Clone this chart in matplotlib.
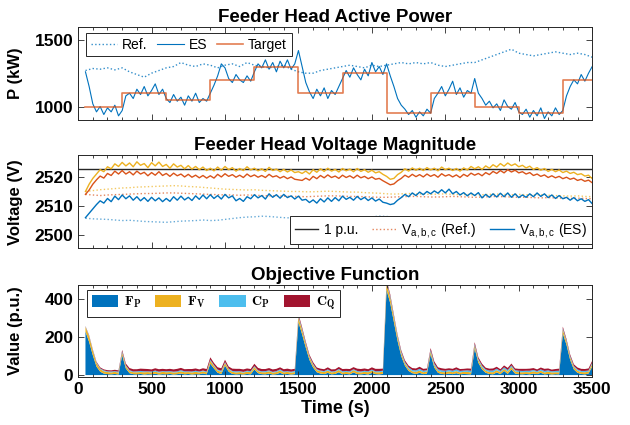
# Feeder head power / voltage / objective - 3 stacked panels
import matplotlib
matplotlib.use("Agg")
import matplotlib.pyplot as plt
import numpy as np

plt.rcParams['font.family'] = ['Liberation Sans', 'DejaVu Sans']
plt.rcParams['mathtext.fontset'] = 'cm'

# time grids (s)
t = np.arange(50, 3501, 25)
t_ref = np.arange(50, 3501, 50)

# ---- active power (kW) ----
p_es = [1260, 1150, 1020, 960, 1000, 940, 990, 960, 1010, 930, 970, 1080,
        1100, 1060, 1130, 1090, 1150, 1080, 1120, 1170, 1090, 1130, 1060, 1030,
        1090, 1040, 1070, 1010, 1080, 1040, 1100, 1030, 1060, 1040, 1100, 1160,
        1230, 1320, 1290, 1210, 1180, 1240, 1200, 1180, 1230, 1190, 1260, 1320,
        1290, 1350, 1280, 1330, 1260, 1340, 1290, 1350, 1280, 1320, 1420, 1300,
        1180, 1110, 1060, 1130, 1080, 1140, 1060, 1120, 1090, 1150, 1210, 1270,
        1220, 1290, 1240, 1200, 1280, 1230, 1330, 1260, 1300, 1240, 1320, 1230,
        1150, 1060, 1010, 980, 940, 970, 920, 960, 930, 980, 950, 1060,
        1100, 1150, 1080, 1130, 1190, 1090, 1140, 1070, 1120, 1100, 1210, 1100,
        1060, 1010, 1040, 990, 1020, 970, 1050, 1000, 980, 1030, 960, 940,
        980, 920, 970, 930, 990, 910, 960, 930, 990, 940, 970, 1080,
        1150, 1200, 1170, 1240, 1190, 1250, 1300]
p_ref = [1270, 1285, 1280, 1290, 1275, 1290, 1260, 1240, 1220, 1250,
         1270, 1290, 1300, 1330, 1310, 1300, 1320, 1310, 1290, 1310,
         1320, 1300, 1330, 1310, 1300, 1290, 1300, 1310, 1280, 1260,
         1250, 1250, 1270, 1280, 1290, 1300, 1310, 1300, 1290, 1310,
         1300, 1310, 1320, 1330, 1320, 1330, 1320, 1330, 1310, 1300,
         1310, 1320, 1330, 1330, 1350, 1370, 1390, 1410, 1430, 1400,
         1390, 1380, 1390, 1400, 1410, 1400, 1390, 1400, 1390, 1370]
target_t = [50, 300, 600, 900, 1200, 1500, 1800, 2100, 2400, 2700, 3000, 3300, 3500]
target_p = [1000, 1100, 1050, 1200, 1300, 1100, 1250, 950, 1100, 1000, 950, 1200, 1200]

# ---- voltage (V) ----
v_nominal = 2522.6
v_es_c = [2515.0, 2517.5, 2519.5, 2521.0, 2522.5, 2521.8, 2523.5, 2522.8, 2524.5, 2523.6, 2525.0, 2523.8,
          2524.8, 2523.5, 2525.2, 2524.0, 2524.6, 2523.2, 2524.9, 2523.8, 2525.1, 2523.6, 2524.3, 2523.0,
          2524.5, 2523.4, 2524.0, 2522.8, 2523.9, 2522.7, 2523.6, 2522.5, 2523.4, 2522.2, 2523.0, 2522.1,
          2523.4, 2522.3, 2523.6, 2522.5, 2523.2, 2522.0, 2522.9, 2522.2, 2523.5, 2522.4, 2523.0, 2522.1,
          2522.8, 2521.9, 2523.3, 2522.2, 2522.7, 2521.8, 2522.6, 2521.7, 2522.4, 2521.5, 2521.8, 2521.2,
          2522.0, 2521.0, 2522.5, 2521.6, 2522.8, 2521.9, 2523.0, 2522.0, 2522.6, 2521.7, 2522.9, 2522.1,
          2522.7, 2521.8, 2522.9, 2521.9, 2522.5, 2521.6, 2522.3, 2521.4, 2521.8, 2520.9, 2520.2, 2519.2,
          2519.5, 2520.8, 2521.6, 2522.8, 2522.0, 2523.1, 2522.3, 2523.0, 2522.2, 2523.2, 2522.4, 2523.0,
          2522.1, 2523.4, 2522.5, 2523.0, 2522.2, 2522.9, 2522.0, 2523.1, 2522.4, 2523.6, 2522.8, 2523.5,
          2522.6, 2523.8, 2523.0, 2524.2, 2523.4, 2524.6, 2523.7, 2524.8, 2523.9, 2524.5, 2523.5, 2524.0,
          2523.1, 2523.7, 2522.6, 2523.2, 2522.3, 2522.9, 2521.9, 2522.6, 2521.8, 2522.4, 2521.5, 2522.0,
          2521.2, 2521.6, 2520.8, 2521.1, 2520.3, 2520.6, 2519.4]
v_es_b = [2514.0, 2515.5, 2517.5, 2519.0, 2520.3, 2519.6, 2521.2, 2520.5, 2522.0, 2521.0, 2522.2, 2521.0,
          2521.8, 2520.7, 2522.0, 2521.0, 2521.6, 2520.4, 2521.5, 2520.6, 2521.8, 2520.5, 2521.2, 2520.2,
          2521.3, 2520.4, 2521.0, 2520.0, 2520.9, 2519.9, 2520.6, 2519.7, 2520.5, 2519.6, 2520.4, 2519.6,
          2520.9, 2520.0, 2521.1, 2520.2, 2520.8, 2519.9, 2520.6, 2519.8, 2521.0, 2520.1, 2520.7, 2519.9,
          2520.5, 2519.8, 2520.9, 2520.0, 2520.4, 2519.6, 2520.2, 2519.4, 2520.0, 2519.2, 2519.0, 2518.8,
          2519.6, 2518.9, 2520.2, 2519.4, 2520.5, 2519.7, 2520.7, 2519.8, 2520.3, 2519.5, 2520.6, 2519.8,
          2520.4, 2519.6, 2520.6, 2519.7, 2520.2, 2519.4, 2520.0, 2519.2, 2519.5, 2518.7, 2518.0, 2517.3,
          2517.6, 2518.7, 2519.5, 2520.6, 2519.9, 2520.9, 2520.1, 2520.8, 2520.0, 2521.0, 2520.2, 2520.8,
          2519.9, 2521.1, 2520.3, 2520.8, 2520.0, 2520.7, 2519.8, 2520.9, 2520.2, 2521.3, 2520.6, 2521.2,
          2520.4, 2521.5, 2520.8, 2521.9, 2521.2, 2522.2, 2521.4, 2522.5, 2521.7, 2522.3, 2521.4, 2521.8,
          2521.0, 2521.5, 2520.5, 2521.0, 2520.2, 2520.7, 2519.8, 2520.4, 2519.7, 2520.2, 2519.4, 2519.9,
          2519.2, 2519.6, 2518.8, 2519.2, 2518.5, 2518.9, 2518.0]
v_es_a = [2506.0, 2507.5, 2509.0, 2510.5, 2511.8, 2511.0, 2512.6, 2511.5, 2513.4, 2512.2, 2513.8, 2512.5,
          2513.5, 2512.0, 2513.2, 2511.8, 2512.9, 2511.6, 2513.0, 2511.8, 2512.8, 2511.5, 2512.6, 2511.6,
          2513.2, 2512.0, 2513.4, 2512.1, 2513.0, 2511.9, 2513.5, 2512.3, 2513.8, 2512.5, 2513.9, 2512.6,
          2513.6, 2512.4, 2514.0, 2512.8, 2513.5, 2511.8, 2512.6, 2511.6, 2513.2, 2512.5, 2513.9, 2512.8,
          2513.6, 2512.4, 2514.2, 2513.0, 2513.9, 2512.7, 2514.0, 2512.9, 2513.5, 2512.4, 2513.4, 2512.0,
          2512.3, 2511.2, 2512.1, 2511.0, 2512.5, 2511.4, 2512.8, 2511.6, 2512.9, 2511.8, 2513.4, 2512.3,
          2513.0, 2512.0, 2513.3, 2512.2, 2513.0, 2511.9, 2512.8, 2511.7, 2512.4, 2511.3, 2511.0, 2510.5,
          2510.8, 2512.0, 2512.9, 2514.0, 2513.2, 2514.5, 2513.6, 2514.8, 2513.9, 2515.0, 2514.2, 2515.2,
          2514.4, 2515.6, 2514.5, 2515.8, 2514.2, 2515.0, 2513.8, 2514.6, 2513.5, 2514.5, 2513.6, 2514.6,
          2512.8, 2514.0, 2513.0, 2514.2, 2513.1, 2514.4, 2513.2, 2514.5, 2513.0, 2514.2, 2512.9, 2513.8,
          2513.0, 2514.2, 2513.2, 2514.5, 2513.3, 2514.2, 2512.9, 2513.8, 2512.6, 2513.6, 2512.5, 2513.0,
          2512.0, 2512.9, 2511.8, 2512.5, 2511.6, 2512.2, 2510.8]
v_ref_c = [2515.0, 2515.3, 2515.6, 2515.8, 2516.0, 2516.2, 2516.3, 2516.5, 2516.6, 2516.7,
           2516.8, 2516.9, 2517.0, 2516.9, 2516.7, 2516.6, 2516.4, 2516.2, 2516.0, 2515.8,
           2515.7, 2515.6, 2515.5, 2515.6, 2515.4, 2515.3, 2515.2, 2515.1, 2515.0, 2515.0,
           2514.9, 2514.9, 2515.0, 2515.1, 2515.0, 2514.9, 2514.8, 2514.8, 2514.6, 2514.5,
           2514.4, 2514.2, 2514.1, 2514.2, 2514.3, 2514.2, 2514.1, 2514.0, 2514.1, 2514.2,
           2514.0, 2513.9, 2514.0, 2513.8, 2513.9, 2514.0, 2514.1, 2514.0, 2513.9, 2514.0,
           2513.9, 2513.8, 2513.9, 2513.7, 2513.6, 2513.5, 2513.4, 2513.5, 2513.3, 2513.2]
v_ref_b = [2514.0, 2513.8, 2513.6, 2513.8, 2513.9, 2514.0, 2514.1, 2514.2, 2514.3, 2514.3,
           2514.4, 2514.5, 2514.5, 2514.4, 2514.3, 2514.2, 2514.1, 2514.0, 2513.9, 2513.8,
           2513.8, 2513.7, 2513.8, 2513.7, 2513.6, 2513.5, 2513.5, 2513.4, 2513.3, 2513.3,
           2513.2, 2513.3, 2513.4, 2513.5, 2513.5, 2513.4, 2513.3, 2513.3, 2513.2, 2513.1,
           2513.0, 2513.0, 2513.1, 2513.2, 2513.3, 2513.3, 2513.2, 2513.1, 2513.1, 2513.2,
           2513.3, 2513.2, 2513.1, 2513.0, 2513.1, 2513.2, 2513.3, 2513.2, 2513.1, 2513.0,
           2513.0, 2512.9, 2512.8, 2512.9, 2512.8, 2512.7, 2512.6, 2512.7, 2512.6, 2512.5]
v_ref_a = [2505.8, 2505.6, 2505.5, 2505.4, 2505.2, 2505.0, 2505.1, 2504.9, 2504.7, 2504.6,
           2504.5, 2504.4, 2504.6, 2504.8, 2504.9, 2505.0, 2505.2, 2505.0, 2505.1, 2505.4,
           2505.7, 2506.0, 2506.2, 2506.3, 2506.5, 2506.4, 2506.2, 2506.0, 2505.9, 2505.8,
           2505.7, 2505.6, 2505.8, 2505.9, 2506.0, 2505.8, 2505.7, 2505.9, 2506.1, 2506.3,
           2506.5, 2506.4, 2506.2, 2506.0, 2505.9, 2505.8, 2505.9, 2506.0, 2505.8, 2505.7,
           2505.6, 2505.7, 2505.8, 2505.9, 2505.8, 2505.7, 2505.6, 2505.5, 2505.6, 2505.7,
           2505.8, 2505.7, 2505.6, 2505.5, 2505.4, 2505.5, 2505.6, 2505.5, 2505.4, 2505.5]

# ---- objective terms (p.u.) ----
f_p = [230, 175, 105, 45, 18, 8, 5, 4, 6, 3, 105, 35,
       10, 5, 4, 6, 3, 5, 4, 7, 3, 5, 4, 6,
       3, 5, 8, 4, 6, 3, 5, 4, 9, 4, 60, 35,
       12, 6, 50, 18, 6, 4, 5, 3, 6, 4, 30, 10,
       5, 4, 8, 3, 5, 12, 4, 6, 3, 5, 280, 215,
       145, 80, 40, 15, 8, 5, 12, 4, 6, 15, 4, 6,
       4, 14, 5, 4, 6, 3, 12, 5, 4, 6, 450, 380,
       280, 180, 100, 50, 22, 10, 6, 12, 5, 8, 110, 40,
       12, 6, 4, 8, 5, 10, 4, 6, 5, 4, 140, 65,
       30, 12, 6, 4, 14, 5, 22, 6, 30, 8, 5, 4,
       6, 4, 8, 5, 12, 4, 6, 3, 5, 4, 220, 160,
       80, 30, 12, 6, 4, 8, 45]
f_v = [25, 30, 25, 18, 14, 12, 11, 10, 11, 10, 14, 12,
       11, 10, 11, 10, 12, 11, 10, 11, 10, 12, 11, 10,
       11, 10, 12, 11, 10, 11, 12, 10, 11, 10, 16, 13,
       12, 11, 14, 12, 11, 10, 11, 10, 12, 11, 13, 11,
       10, 11, 12, 10, 11, 12, 10, 11, 10, 11, 25, 22,
       18, 15, 13, 11, 12, 11, 12, 10, 11, 12, 10, 11,
       10, 12, 11, 10, 11, 12, 11, 10, 11, 12, 35, 30,
       25, 20, 15, 12, 11, 10, 11, 12, 10, 11, 15, 12,
       11, 10, 11, 12, 10, 11, 10, 11, 12, 10, 16, 13,
       12, 11, 10, 11, 12, 10, 11, 12, 13, 11, 10, 11,
       10, 11, 12, 10, 11, 10, 12, 11, 10, 11, 20, 17,
       14, 12, 11, 10, 11, 10, 14]
c_p = [2, 3, 3, 4, 4, 5, 4, 5, 4, 5, 6, 5,
       5, 4, 5, 6, 5, 4, 5, 6, 5, 4, 5, 5,
       4, 5, 6, 5, 4, 5, 6, 5, 4, 5, 6, 5,
       5, 6, 5, 4, 5, 6, 5, 4, 5, 6, 5, 4,
       5, 6, 5, 4, 5, 6, 5, 4, 5, 6, 8, 7,
       6, 5, 6, 5, 4, 5, 6, 5, 4, 5, 6, 5,
       6, 5, 6, 5, 6, 5, 6, 5, 6, 5, 8, 8,
       7, 7, 8, 7, 8, 7, 8, 9, 8, 7, 8, 9,
       8, 9, 8, 7, 8, 9, 8, 7, 8, 9, 8, 7,
       8, 7, 8, 9, 8, 7, 8, 9, 8, 7, 8, 7,
       7, 8, 7, 6, 7, 8, 7, 6, 7, 8, 7, 6,
       7, 6, 7, 6, 7, 6, 7]
c_q = [2, 3, 3, 4, 5, 5, 6, 6, 7, 7, 8, 9,
       11, 12, 11, 12, 13, 12, 11, 12, 13, 12, 11, 12,
       12, 13, 12, 11, 12, 13, 12, 11, 12, 13, 12, 11,
       12, 13, 12, 11, 12, 13, 12, 13, 12, 11, 12, 13,
       12, 11, 12, 13, 12, 11, 12, 13, 12, 11, 10, 9,
       8, 8, 9, 9, 10, 10, 11, 11, 10, 11, 12, 11,
       12, 11, 12, 13, 12, 11, 12, 13, 12, 11, 10, 9,
       8, 7, 8, 9, 9, 10, 10, 11, 10, 9, 10, 11,
       10, 11, 10, 9, 10, 11, 10, 9, 10, 11, 10, 9,
       10, 9, 10, 11, 10, 9, 10, 11, 10, 9, 10, 11,
       10, 11, 10, 9, 10, 11, 10, 9, 10, 11, 9, 8,
       8, 9, 10, 11, 10, 11, 10]

blue = '#0072BD'
orange = '#D95319'
yellow = '#EDB120'
lblue = '#4DBEEE'
dred = '#A2142F'
frame = '#262626'

fig = plt.figure(figsize=(6.3, 4.25), dpi=100)
ax1 = fig.add_axes([0.124, 0.718, 0.816, 0.218])
ax2 = fig.add_axes([0.124, 0.416, 0.816, 0.219])
ax3 = fig.add_axes([0.124, 0.113, 0.816, 0.216])


def style(ax, show_x):
    ax.set_xlim(0, 3500)
    ax.set_xticks(np.arange(0, 3501, 500))
    ax.set_xticks(np.arange(0, 3501, 100), minor=True)
    ax.tick_params(which='both', direction='in', top=True, right=True,
                   color=frame, width=0.6, labelsize=12.5)
    ax.tick_params(which='major', length=4)
    ax.tick_params(which='minor', length=2)
    ax.tick_params(axis='y', which='minor', left=False, right=False)
    if not show_x:
        ax.tick_params(axis='x', labelbottom=False)
    for s in ax.spines.values():
        s.set_color(frame)
        s.set_linewidth(0.7)
    for lab in ax.get_xticklabels() + ax.get_yticklabels():
        lab.set_fontweight('bold')
    ax.yaxis.set_label_coords(-0.108, 0.5)


leg_kw = dict(fontsize=10, frameon=True, fancybox=False, framealpha=1,
              edgecolor=frame, borderaxespad=0, borderpad=0.35)

# panel 1
ax1.plot(t_ref, p_ref, ls=':', color=blue, lw=1.0, alpha=0.8, label='Ref.')
ax1.plot(t, p_es, color=blue, lw=0.8, label='ES')
ax1.step(target_t, target_p, where='post', color=orange, lw=1.2, alpha=0.75, label='Target')
ax1.set_ylim(900, 1595)
ax1.set_yticks([1000, 1500])
ax1.set_ylabel('P (kW)', fontsize=12, fontweight='bold')
ax1.set_title('Feeder Head Active Power', fontsize=13.5, fontweight='bold', pad=4)
style(ax1, False)
l1 = ax1.legend(loc='upper left', bbox_to_anchor=(0.015, 0.94), ncol=3,
                handlelength=1.9, handletextpad=0.35, columnspacing=0.7, **leg_kw)
l1.get_frame().set_linewidth(0.7)

# panel 2
ax2.axhline(v_nominal, color=frame, lw=1.0, label='1 p.u.')
ax2.plot(t_ref, v_ref_c, ls=':', color=yellow, lw=1.0, alpha=0.7)
ax2.plot(t_ref, v_ref_b, ls=':', color=orange, lw=1.0, alpha=0.7,
         label='V$_{\\mathregular{a,b,c}}$ (Ref.)')
ax2.plot(t_ref, v_ref_a, ls=':', color=blue, lw=1.0, alpha=0.6)
ax2.plot(t, v_es_c, color=yellow, lw=1.0)
ax2.plot(t, v_es_b, color=orange, lw=1.0)
ax2.plot(t, v_es_a, color=blue, lw=1.0, label='V$_{\\mathregular{a,b,c}}$ (ES)')
ax2.set_ylim(2495.5, 2527.5)
ax2.set_yticks([2500, 2510, 2520])
ax2.set_ylabel('Voltage (V)', fontsize=12, fontweight='bold')
ax2.set_title('Feeder Head Voltage Magnitude', fontsize=13.5, fontweight='bold', pad=4)
style(ax2, False)
l2 = ax2.legend(loc='lower right', bbox_to_anchor=(1.0, 0.04), ncol=3,
                handlelength=1.7, handletextpad=0.4, columnspacing=1.0, **leg_kw)
l2.get_frame().set_linewidth(0.7)

# panel 3
ax3.stackplot(t, f_p, f_v, c_p, c_q, colors=[blue, yellow, lblue, dred],
              labels=[r'$\mathbf{F}_\mathbf{P}$', r'$\mathbf{F}_\mathbf{V}$',
                      r'$\mathbf{C}_\mathbf{P}$', r'$\mathbf{C}_\mathbf{Q}$'],
              lw=0)
ax3.set_ylim(-10, 475)
ax3.set_yticks([0, 200, 400])
ax3.set_ylabel('Value (p.u.)', fontsize=12, fontweight='bold')
ax3.set_xlabel('Time (s)', fontsize=13, fontweight='bold', labelpad=2)
ax3.set_title('Objective Function', fontsize=13.5, fontweight='bold', pad=4)
style(ax3, True)
l3 = ax3.legend(loc='upper left', bbox_to_anchor=(0.017, 0.95), ncol=4,
                handlelength=1.9, handleheight=0.9, handletextpad=0.4,
                columnspacing=1.0, **leg_kw)
l3.get_frame().set_linewidth(0.7)

fig.savefig('out.png', dpi=100)
